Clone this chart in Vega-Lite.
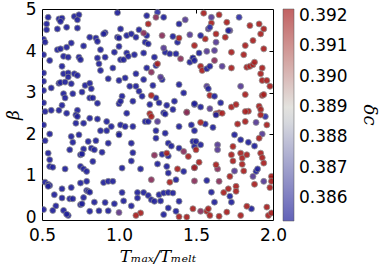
{
"$schema":"https://vega.github.io/schema/vega-lite/v6.json",
"autosize":{"type":"none"},
"padding":{"left":42,"top":9,"right":108,"bottom":47},
"width":231,"height":211,
"datasets":{"pts":[
{"T":0.54,"beta":4.82,"delta":0.3858},{"T":0.61,"beta":4.78,"delta":0.3858},{"T":0.63,"beta":4.80,"delta":0.3858},{"T":0.62,"beta":4.72,"delta":0.3858},{"T":0.71,"beta":4.84,"delta":0.3858},{"T":0.74,"beta":4.88,"delta":0.3858},{"T":0.73,"beta":4.76,"delta":0.3858},{"T":0.53,"beta":4.66,"delta":0.3858},{"T":0.53,"beta":4.52,"delta":0.3858},{"T":0.60,"beta":4.54,"delta":0.3858},{"T":0.66,"beta":4.58,"delta":0.3858},{"T":0.73,"beta":4.56,"delta":0.3858},{"T":0.91,"beta":4.45,"delta":0.3858},{"T":0.90,"beta":4.42,"delta":0.3858},{"T":0.81,"beta":4.34,"delta":0.3858},{"T":0.85,"beta":4.32,"delta":0.3858},{"T":0.86,"beta":4.24,"delta":0.3858},{"T":0.99,"beta":4.34,"delta":0.3858},{"T":0.51,"beta":4.29,"delta":0.3858},{"T":0.52,"beta":4.22,"delta":0.3858},{"T":0.69,"beta":4.20,"delta":0.3858},{"T":0.66,"beta":4.10,"delta":0.3858},{"T":0.77,"beta":4.13,"delta":0.3858},{"T":0.60,"beta":4.04,"delta":0.3858},{"T":0.62,"beta":4.06,"delta":0.3858},{"T":0.88,"beta":4.04,"delta":0.3858},{"T":0.97,"beta":3.98,"delta":0.3858},{"T":0.51,"beta":3.92,"delta":0.3858},{"T":0.64,"beta":3.88,"delta":0.3858},{"T":0.67,"beta":3.86,"delta":0.3858},{"T":0.74,"beta":3.86,"delta":0.3858},{"T":0.75,"beta":3.80,"delta":0.3858},{"T":0.86,"beta":3.84,"delta":0.3858},{"T":0.91,"beta":3.86,"delta":0.3858},{"T":0.55,"beta":3.78,"delta":0.3858},{"T":0.87,"beta":3.70,"delta":0.3858},{"T":0.63,"beta":3.64,"delta":0.3858},{"T":0.96,"beta":3.60,"delta":0.3858},{"T":0.88,"beta":3.54,"delta":0.3858},{"T":0.64,"beta":3.46,"delta":0.3858},{"T":0.67,"beta":3.48,"delta":0.3858},{"T":0.71,"beta":3.46,"delta":0.3858},{"T":0.73,"beta":3.42,"delta":0.3858},{"T":0.51,"beta":3.48,"delta":0.3858},{"T":0.67,"beta":3.38,"delta":0.3858},{"T":0.93,"beta":3.34,"delta":0.3858},{"T":0.61,"beta":3.23,"delta":0.3858},{"T":0.62,"beta":3.25,"delta":0.3858},{"T":0.65,"beta":3.26,"delta":0.3858},{"T":0.69,"beta":3.22,"delta":0.3858},{"T":0.51,"beta":3.28,"delta":0.3858},{"T":0.78,"beta":3.18,"delta":0.3858},{"T":0.81,"beta":3.23,"delta":0.3858},{"T":0.56,"beta":3.12,"delta":0.3858},{"T":0.51,"beta":3.06,"delta":0.3858},{"T":0.70,"beta":2.98,"delta":0.3858},{"T":0.76,"beta":3.02,"delta":0.3858},{"T":0.82,"beta":3.10,"delta":0.3858},{"T":0.64,"beta":2.98,"delta":0.3858},{"T":0.65,"beta":2.88,"delta":0.3858},{"T":0.81,"beta":2.88,"delta":0.3858},{"T":0.83,"beta":2.88,"delta":0.3858},{"T":0.86,"beta":2.75,"delta":0.3858},{"T":0.63,"beta":2.70,"delta":0.3858},{"T":0.51,"beta":2.76,"delta":0.3858},{"T":0.56,"beta":2.58,"delta":0.3858},{"T":0.61,"beta":2.58,"delta":0.3858},{"T":0.73,"beta":2.58,"delta":0.3858},{"T":1.00,"beta":2.74,"delta":0.3858},{"T":0.99,"beta":4.93,"delta":0.3858},
{"T":0.52,"beta":2.55,"delta":0.3858},{"T":0.66,"beta":2.51,"delta":0.3858},{"T":0.72,"beta":2.47,"delta":0.3858},{"T":0.73,"beta":2.43,"delta":0.3858},{"T":0.81,"beta":2.39,"delta":0.3858},{"T":0.86,"beta":2.37,"delta":0.3858},{"T":0.51,"beta":2.23,"delta":0.3858},{"T":0.72,"beta":2.27,"delta":0.3858},{"T":0.77,"beta":2.27,"delta":0.3858},{"T":0.92,"beta":2.31,"delta":0.3858},{"T":0.95,"beta":2.19,"delta":0.3858},{"T":0.88,"beta":2.09,"delta":0.3858},{"T":0.92,"beta":2.09,"delta":0.3858},{"T":0.55,"beta":2.01,"delta":0.3858},{"T":0.69,"beta":1.95,"delta":0.3858},{"T":0.74,"beta":1.99,"delta":0.3858},{"T":0.70,"beta":1.81,"delta":0.3858},{"T":1.00,"beta":2.01,"delta":0.3858},{"T":0.52,"beta":1.85,"delta":0.3858},{"T":0.80,"beta":1.83,"delta":0.3858},{"T":0.85,"beta":1.85,"delta":0.3858},{"T":0.93,"beta":1.79,"delta":0.3858},{"T":0.68,"beta":1.63,"delta":0.3858},{"T":0.77,"beta":1.65,"delta":0.3858},{"T":0.75,"beta":1.51,"delta":0.3858},{"T":0.76,"beta":1.53,"delta":0.3858},{"T":0.82,"beta":1.67,"delta":0.3858},{"T":0.84,"beta":1.63,"delta":0.3858},{"T":0.89,"beta":1.57,"delta":0.3858},{"T":0.54,"beta":1.55,"delta":0.3858},{"T":0.55,"beta":1.39,"delta":0.3858},{"T":0.83,"beta":1.35,"delta":0.3858},{"T":0.55,"beta":1.23,"delta":0.3858},{"T":0.57,"beta":1.21,"delta":0.3858},{"T":0.65,"beta":1.17,"delta":0.3858},{"T":0.75,"beta":1.23,"delta":0.3858},{"T":0.77,"beta":1.17,"delta":0.3858},{"T":0.79,"beta":1.11,"delta":0.3858},{"T":0.52,"beta":0.85,"delta":0.3858},{"T":0.54,"beta":0.80,"delta":0.3858},{"T":0.55,"beta":0.77,"delta":0.3858},{"T":0.54,"beta":0.75,"delta":0.3858},{"T":0.63,"beta":0.69,"delta":0.3858},{"T":0.69,"beta":0.72,"delta":0.3858},{"T":0.75,"beta":0.83,"delta":0.3858},{"T":0.79,"beta":0.87,"delta":0.3858},{"T":0.79,"beta":0.65,"delta":0.3858},{"T":0.80,"beta":0.63,"delta":0.3858},{"T":0.81,"beta":0.61,"delta":0.3858},{"T":0.90,"beta":0.84,"delta":0.3858},{"T":0.93,"beta":0.87,"delta":0.3858},{"T":0.96,"beta":0.87,"delta":0.3858},{"T":0.58,"beta":0.55,"delta":0.3858},{"T":0.63,"beta":0.47,"delta":0.3858},{"T":0.68,"beta":0.45,"delta":0.3858},{"T":0.70,"beta":0.45,"delta":0.3858},{"T":0.75,"beta":0.31,"delta":0.3858},{"T":0.76,"beta":0.33,"delta":0.3858},{"T":0.77,"beta":0.48,"delta":0.3858},{"T":0.84,"beta":0.37,"delta":0.3858},{"T":0.91,"beta":0.36,"delta":0.3858},{"T":0.97,"beta":0.33,"delta":0.3858},{"T":0.59,"beta":0.28,"delta":0.3858},{"T":0.57,"beta":0.17,"delta":0.3858},{"T":0.64,"beta":0.17,"delta":0.3858},{"T":0.67,"beta":0.05,"delta":0.3858},{"T":0.66,"beta":0.08,"delta":0.3858},{"T":0.51,"beta":0.19,"delta":0.3858},{"T":0.81,"beta":0.15,"delta":0.3858},{"T":0.87,"beta":0.16,"delta":0.3858},{"T":0.93,"beta":0.16,"delta":0.3858},{"T":1.00,"beta":0.12,"delta":0.3886},
{"T":1.18,"beta":4.86,"delta":0.3858},{"T":1.29,"beta":4.82,"delta":0.3858},{"T":1.39,"beta":4.66,"delta":0.3858},{"T":1.01,"beta":4.54,"delta":0.3858},{"T":1.05,"beta":4.38,"delta":0.3858},{"T":1.08,"beta":4.42,"delta":0.3858},{"T":1.11,"beta":4.34,"delta":0.3858},{"T":1.13,"beta":4.52,"delta":0.3858},{"T":1.18,"beta":4.38,"delta":0.3858},{"T":1.35,"beta":4.36,"delta":0.3858},{"T":1.38,"beta":4.22,"delta":0.3858},{"T":1.00,"beta":4.32,"delta":0.3858},{"T":1.00,"beta":4.12,"delta":0.3858},{"T":1.17,"beta":4.22,"delta":0.3858},{"T":1.19,"beta":4.18,"delta":0.3858},{"T":1.30,"beta":3.98,"delta":0.3858},{"T":1.33,"beta":3.94,"delta":0.3858},{"T":1.37,"beta":3.94,"delta":0.3858},{"T":1.48,"beta":3.84,"delta":0.3858},{"T":1.46,"beta":3.74,"delta":0.3858},{"T":1.05,"beta":3.96,"delta":0.3858},{"T":1.06,"beta":3.88,"delta":0.3858},{"T":1.10,"beta":3.92,"delta":0.3858},{"T":1.16,"beta":3.96,"delta":0.3858},{"T":1.01,"beta":3.80,"delta":0.3858},{"T":1.03,"beta":3.80,"delta":0.3858},{"T":1.23,"beta":3.86,"delta":0.3858},{"T":1.24,"beta":3.66,"delta":0.3858},{"T":1.18,"beta":3.60,"delta":0.3858},{"T":1.28,"beta":3.32,"delta":0.3858},{"T":1.04,"beta":3.36,"delta":0.3858},{"T":1.11,"beta":3.46,"delta":0.3858},{"T":1.16,"beta":3.32,"delta":0.3858},{"T":1.00,"beta":3.30,"delta":0.3858},{"T":1.07,"beta":3.16,"delta":0.3858},{"T":1.11,"beta":3.16,"delta":0.3858},{"T":1.22,"beta":3.18,"delta":0.3858},{"T":1.39,"beta":3.20,"delta":0.3858},{"T":1.13,"beta":3.04,"delta":0.3858},{"T":1.15,"beta":2.92,"delta":0.3858},{"T":1.24,"beta":2.88,"delta":0.3858},{"T":1.36,"beta":2.80,"delta":0.3858},{"T":1.42,"beta":3.00,"delta":0.3858},{"T":1.02,"beta":2.92,"delta":0.3858},{"T":1.01,"beta":2.80,"delta":0.3858},{"T":1.09,"beta":2.80,"delta":0.3858},{"T":1.20,"beta":2.72,"delta":0.3858},{"T":1.26,"beta":2.76,"delta":0.3858},{"T":1.31,"beta":2.70,"delta":0.3858},{"T":1.35,"beta":2.60,"delta":0.3858},{"T":1.29,"beta":2.52,"delta":0.3858},{"T":1.49,"beta":2.72,"delta":0.3858},
{"T":1.25,"beta":4.94,"delta":0.3870},{"T":1.43,"beta":4.76,"delta":0.3883},{"T":1.46,"beta":4.40,"delta":0.3883},{"T":1.29,"beta":4.08,"delta":0.3883},{"T":1.27,"beta":3.38,"delta":0.3883},
{"T":1.24,"beta":4.82,"delta":0.3897},{"T":1.16,"beta":4.44,"delta":0.3897},{"T":1.28,"beta":4.38,"delta":0.3897},{"T":1.40,"beta":3.82,"delta":0.3897},{"T":1.21,"beta":3.50,"delta":0.3897},
{"T":1.19,"beta":4.66,"delta":0.3915},{"T":1.39,"beta":4.32,"delta":0.3915},{"T":1.49,"beta":4.14,"delta":0.3915},{"T":1.25,"beta":3.70,"delta":0.3915},{"T":1.21,"beta":2.94,"delta":0.3915},{"T":1.44,"beta":2.54,"delta":0.3915},{"T":1.20,"beta":2.50,"delta":0.3915},
{"T":1.55,"beta":4.92,"delta":0.3915},{"T":1.65,"beta":4.88,"delta":0.3915},{"T":1.60,"beta":4.68,"delta":0.3915},{"T":1.70,"beta":4.70,"delta":0.3915},{"T":1.85,"beta":4.62,"delta":0.3915},{"T":1.91,"beta":4.66,"delta":0.3915},{"T":1.94,"beta":4.54,"delta":0.3915},{"T":1.56,"beta":4.30,"delta":0.3915},{"T":1.63,"beta":4.42,"delta":0.3915},{"T":1.69,"beta":4.34,"delta":0.3915},{"T":1.92,"beta":4.42,"delta":0.3915},{"T":1.82,"beta":4.14,"delta":0.3915},{"T":1.87,"beta":4.26,"delta":0.3915},{"T":1.94,"beta":4.06,"delta":0.3915},{"T":1.73,"beta":3.98,"delta":0.3915},{"T":1.81,"beta":3.92,"delta":0.3915},{"T":1.53,"beta":3.64,"delta":0.3915},{"T":1.54,"beta":3.54,"delta":0.3915},{"T":1.73,"beta":3.60,"delta":0.3915},{"T":1.83,"beta":3.62,"delta":0.3915},{"T":1.85,"beta":3.64,"delta":0.3915},{"T":1.87,"beta":3.68,"delta":0.3915},{"T":1.88,"beta":3.74,"delta":0.3915},{"T":1.93,"beta":3.60,"delta":0.3915},{"T":1.92,"beta":3.46,"delta":0.3915},{"T":1.93,"beta":3.30,"delta":0.3915},{"T":1.96,"beta":3.30,"delta":0.3915},{"T":1.98,"beta":3.16,"delta":0.3915},{"T":1.59,"beta":2.94,"delta":0.3915},{"T":1.82,"beta":2.96,"delta":0.3915},{"T":1.93,"beta":2.94,"delta":0.3915},{"T":1.94,"beta":2.96,"delta":0.3915},{"T":1.73,"beta":2.66,"delta":0.3915},{"T":1.76,"beta":2.72,"delta":0.3915},{"T":1.84,"beta":2.56,"delta":0.3915},{"T":1.91,"beta":2.68,"delta":0.3915},{"T":1.92,"beta":2.60,"delta":0.3915},{"T":1.65,"beta":2.52,"delta":0.3915},{"T":1.63,"beta":2.50,"delta":0.3915},
{"T":1.60,"beta":4.82,"delta":0.3883},{"T":1.58,"beta":4.54,"delta":0.3883},{"T":1.72,"beta":4.50,"delta":0.3883},{"T":1.63,"beta":4.22,"delta":0.3883},{"T":1.57,"beta":4.00,"delta":0.3883},{"T":1.62,"beta":4.02,"delta":0.3883},{"T":1.67,"beta":3.64,"delta":0.3883},{"T":1.57,"beta":3.16,"delta":0.3883},{"T":1.79,"beta":3.16,"delta":0.3883},{"T":1.59,"beta":2.62,"delta":0.3883},
{"T":1.59,"beta":4.58,"delta":0.3870},{"T":1.78,"beta":4.82,"delta":0.3870},{"T":1.62,"beta":3.78,"delta":0.3897},
{"T":1.71,"beta":4.50,"delta":0.3858},{"T":1.53,"beta":4.38,"delta":0.3858},{"T":1.52,"beta":3.96,"delta":0.3858},{"T":1.48,"beta":3.84,"delta":0.3858},{"T":1.49,"beta":3.78,"delta":0.3858},{"T":1.57,"beta":3.58,"delta":0.3858},{"T":1.59,"beta":3.64,"delta":0.3858},{"T":1.58,"beta":3.10,"delta":0.3858},{"T":1.62,"beta":2.92,"delta":0.3858},{"T":1.49,"beta":2.74,"delta":0.3858},{"T":1.53,"beta":2.66,"delta":0.3858},{"T":1.66,"beta":2.76,"delta":0.3858},
{"T":1.05,"beta":2.51,"delta":0.3858},{"T":1.30,"beta":2.49,"delta":0.3858},{"T":1.39,"beta":2.19,"delta":0.3858},{"T":1.01,"beta":2.23,"delta":0.3858},{"T":1.04,"beta":2.19,"delta":0.3858},{"T":1.09,"beta":2.19,"delta":0.3858},{"T":1.17,"beta":2.31,"delta":0.3858},{"T":1.19,"beta":2.31,"delta":0.3858},{"T":1.24,"beta":2.09,"delta":0.3858},{"T":1.30,"beta":2.03,"delta":0.3858},{"T":1.00,"beta":1.99,"delta":0.3858},{"T":1.24,"beta":1.91,"delta":0.3858},{"T":1.32,"beta":1.79,"delta":0.3858},{"T":1.34,"beta":1.72,"delta":0.3858},{"T":1.39,"beta":1.67,"delta":0.3858},{"T":1.48,"beta":1.83,"delta":0.3858},{"T":1.49,"beta":1.71,"delta":0.3858},{"T":1.08,"beta":1.79,"delta":0.3858},{"T":1.09,"beta":1.56,"delta":0.3858},{"T":1.08,"beta":1.36,"delta":0.3858},{"T":1.25,"beta":1.29,"delta":0.3858},{"T":1.28,"beta":1.52,"delta":0.3858},{"T":1.32,"beta":1.48,"delta":0.3858},{"T":1.42,"beta":1.11,"delta":0.3858},{"T":1.49,"beta":1.20,"delta":0.3858},{"T":1.32,"beta":1.07,"delta":0.3858},{"T":1.31,"beta":1.23,"delta":0.3858},{"T":1.02,"beta":1.19,"delta":0.3858},{"T":1.14,"beta":1.17,"delta":0.3858},{"T":1.37,"beta":0.91,"delta":0.3858},{"T":1.02,"beta":0.60,"delta":0.3858},{"T":1.12,"beta":0.60,"delta":0.3858},{"T":1.16,"beta":0.60,"delta":0.3858},{"T":1.19,"beta":0.53,"delta":0.3858},{"T":1.26,"beta":0.55,"delta":0.3858},{"T":1.29,"beta":0.59,"delta":0.3858},{"T":1.32,"beta":0.60,"delta":0.3858},{"T":1.35,"beta":0.59,"delta":0.3858},{"T":1.12,"beta":0.47,"delta":0.3858},{"T":1.21,"beta":0.43,"delta":0.3858},{"T":1.23,"beta":0.39,"delta":0.3858},{"T":1.27,"beta":0.40,"delta":0.3858},{"T":1.03,"beta":0.40,"delta":0.3858},{"T":1.08,"beta":0.28,"delta":0.3858},{"T":1.32,"beta":0.23,"delta":0.3858},{"T":1.39,"beta":0.39,"delta":0.3858},{"T":1.29,"beta":0.07,"delta":0.3858},{"T":1.37,"beta":0.15,"delta":0.3858},{"T":1.47,"beta":2.23,"delta":0.3858},
{"T":1.21,"beta":2.43,"delta":0.3915},{"T":1.31,"beta":1.55,"delta":0.3915},{"T":1.45,"beta":1.47,"delta":0.3915},{"T":1.38,"beta":1.17,"delta":0.3915},{"T":1.33,"beta":0.85,"delta":0.3915},{"T":1.14,"beta":0.11,"delta":0.3915},{"T":1.11,"beta":0.05,"delta":0.3915},{"T":1.39,"beta":0.02,"delta":0.3915},{"T":1.44,"beta":0.01,"delta":0.3915},
{"T":1.44,"beta":2.53,"delta":0.3897},{"T":1.42,"beta":1.59,"delta":0.3897},{"T":1.23,"beta":1.50,"delta":0.3897},{"T":1.21,"beta":0.91,"delta":0.3897},{"T":1.25,"beta":2.31,"delta":0.3883},
{"T":1.63,"beta":2.47,"delta":0.3858},{"T":1.56,"beta":2.25,"delta":0.3858},{"T":1.61,"beta":2.17,"delta":0.3858},{"T":1.49,"beta":2.09,"delta":0.3858},{"T":1.75,"beta":1.99,"delta":0.3858},{"T":1.79,"beta":1.87,"delta":0.3858},{"T":1.84,"beta":1.81,"delta":0.3858},{"T":1.88,"beta":1.72,"delta":0.3858},{"T":1.50,"beta":1.83,"delta":0.3858},{"T":1.53,"beta":1.75,"delta":0.3858},{"T":1.89,"beta":1.11,"delta":0.3858},{"T":1.90,"beta":1.17,"delta":0.3858},{"T":1.57,"beta":0.89,"delta":0.3858},{"T":1.60,"beta":0.61,"delta":0.3858},{"T":1.72,"beta":0.51,"delta":0.3858},{"T":1.62,"beta":0.37,"delta":0.3858},{"T":1.73,"beta":0.37,"delta":0.3858},{"T":1.86,"beta":0.21,"delta":0.3858},
{"T":1.95,"beta":2.43,"delta":0.3870},
{"T":1.89,"beta":2.29,"delta":0.3883},{"T":1.93,"beta":2.01,"delta":0.3883},{"T":1.64,"beta":1.75,"delta":0.3883},{"T":1.64,"beta":1.63,"delta":0.3883},{"T":1.75,"beta":1.12,"delta":0.3883},{"T":1.87,"beta":0.99,"delta":0.3883},{"T":1.94,"beta":0.87,"delta":0.3883},
{"T":1.64,"beta":1.17,"delta":0.3897},{"T":1.49,"beta":0.88,"delta":0.3897},{"T":1.65,"beta":0.87,"delta":0.3897},{"T":1.53,"beta":0.15,"delta":0.3897},
{"T":1.67,"beta":2.51,"delta":0.3915},{"T":1.82,"beta":2.55,"delta":0.3915},{"T":1.92,"beta":2.47,"delta":0.3915},{"T":1.53,"beta":2.29,"delta":0.3915},{"T":1.77,"beta":2.25,"delta":0.3915},{"T":1.82,"beta":2.31,"delta":0.3915},{"T":1.96,"beta":2.23,"delta":0.3915},{"T":1.91,"beta":1.91,"delta":0.3915},{"T":1.50,"beta":1.63,"delta":0.3915},{"T":1.74,"beta":1.71,"delta":0.3915},{"T":1.79,"beta":1.55,"delta":0.3915},{"T":1.80,"beta":1.43,"delta":0.3915},{"T":1.83,"beta":1.51,"delta":0.3915},{"T":1.92,"beta":1.55,"delta":0.3915},{"T":1.93,"beta":1.44,"delta":0.3915},{"T":1.73,"beta":1.51,"delta":0.3915},{"T":1.74,"beta":1.36,"delta":0.3915},{"T":1.94,"beta":1.31,"delta":0.3915},{"T":1.52,"beta":1.33,"delta":0.3915},{"T":1.63,"beta":1.27,"delta":0.3915},{"T":1.80,"beta":1.28,"delta":0.3915},{"T":1.49,"beta":1.20,"delta":0.3915},{"T":1.81,"beta":1.12,"delta":0.3915},{"T":1.99,"beta":0.99,"delta":0.3915},{"T":1.99,"beta":0.87,"delta":0.3915},{"T":1.72,"beta":0.99,"delta":0.3915},{"T":1.88,"beta":0.80,"delta":0.3915},{"T":1.98,"beta":0.72,"delta":0.3915},{"T":1.71,"beta":0.69,"delta":0.3915},{"T":1.76,"beta":0.75,"delta":0.3915},{"T":1.68,"beta":0.60,"delta":0.3915},{"T":1.76,"beta":0.63,"delta":0.3915},{"T":1.83,"beta":0.27,"delta":0.3915},{"T":1.48,"beta":0.21,"delta":0.3915},{"T":1.57,"beta":0.15,"delta":0.3915},{"T":1.58,"beta":0.21,"delta":0.3915},{"T":1.59,"beta":0.05,"delta":0.3915},{"T":1.65,"beta":0.03,"delta":0.3915},{"T":1.70,"beta":0.13,"delta":0.3915},{"T":1.79,"beta":0.05,"delta":0.3915},{"T":1.96,"beta":0.25,"delta":0.3915},{"T":1.97,"beta":0.05,"delta":0.3915},{"T":1.99,"beta":0.11,"delta":0.3915}
]},
"data":{"name":"pts"},
"layer":[
{"mark":{"type":"point","filled":true,"opacity":0},
 "encoding":{
  "x":{"field":"T","type":"quantitative","scale":{"domain":[0.5,2.0],"nice":false,"zero":false},"axis":{"orient":"top","values":[1,1.5],"labels":false,"title":null,"ticks":true,"tickSize":-4}},
  "y":{"field":"beta","type":"quantitative","scale":{"domain":[-0.06,5.02],"nice":false,"zero":false},"axis":{"orient":"right","values":[1,2,3,4],"labels":false,"title":null,"ticks":true,"tickSize":-4}},
  "color":{"field":"delta","type":"quantitative",
   "scale":{"domain":[0.38525,0.3889,0.39223],"range":["#6262b8","#e4e6e2","#c26262"],"interpolate":"rgb"},
   "legend":{"title":"δc","orient":"right","offset":9,"direction":"vertical","gradientLength":212,"gradientThickness":11,
    "values":[0.386,0.387,0.388,0.389,0.39,0.391,0.392],"format":".3f","labelOverlap":false,
    "labelFont":"DejaVu Sans","labelFontSize":17,"labelColor":"black","labelOffset":5,
    "gradientStrokeColor":"#555","gradientStrokeWidth":0.5,
    "titleOrient":"right","titleAngle":270,"titleAnchor":"middle","titleFont":"DejaVu Serif","titleFontStyle":"italic","titleFontWeight":"normal","titleFontSize":18,"titleColor":"black","titlePadding":12}}
 }},
{"mark":{"type":"point","filled":true,"size":36,"opacity":0.92,"stroke":"#8a8a8a","strokeWidth":0.8,"clip":true},
 "encoding":{
  "x":{"field":"T","type":"quantitative","scale":{"domain":[0.5,2.0],"nice":false,"zero":false},"axis":{"orient":"bottom","values":[0.5,1,1.5,2],"format":".1f","title":"Tₘₐₓ/Tₘₑₗₜ","ticks":false,"labelAlign":"center","labelBaseline":"top","labelPadding":7,"titlePadding":5}},
  "y":{"field":"beta","type":"quantitative","scale":{"domain":[-0.06,5.02],"nice":false,"zero":false},"axis":{"orient":"left","values":[0,1,2,3,4,5],"format":"d","title":"β","ticks":false,"labelAlign":"right","labelBaseline":"middle","labelPadding":6,"titlePadding":3}},
  "color":{"field":"delta","type":"quantitative",
   "scale":{"domain":[0.3858,0.387,0.3883,0.3897,0.3915],"range":["#20209a","#3030a6","#553a94","#882e5a","#a82020"],"interpolate":"rgb"},
   "legend":null}
 }}
],
"resolve":{"scale":{"color":"independent"},"axis":{"x":"independent","y":"independent"}},
"config":{
 "view":{"stroke":"black","strokeWidth":1},
 "axis":{"grid":false,"domain":false,"tickColor":"black","tickWidth":1,"labelFlush":false,
  "labelFont":"DejaVu Sans","labelFontSize":17,"labelColor":"black",
  "titleFont":"DejaVu Serif","titleFontStyle":"italic","titleFontWeight":"normal","titleFontSize":17,"titleColor":"black"}
}
}
